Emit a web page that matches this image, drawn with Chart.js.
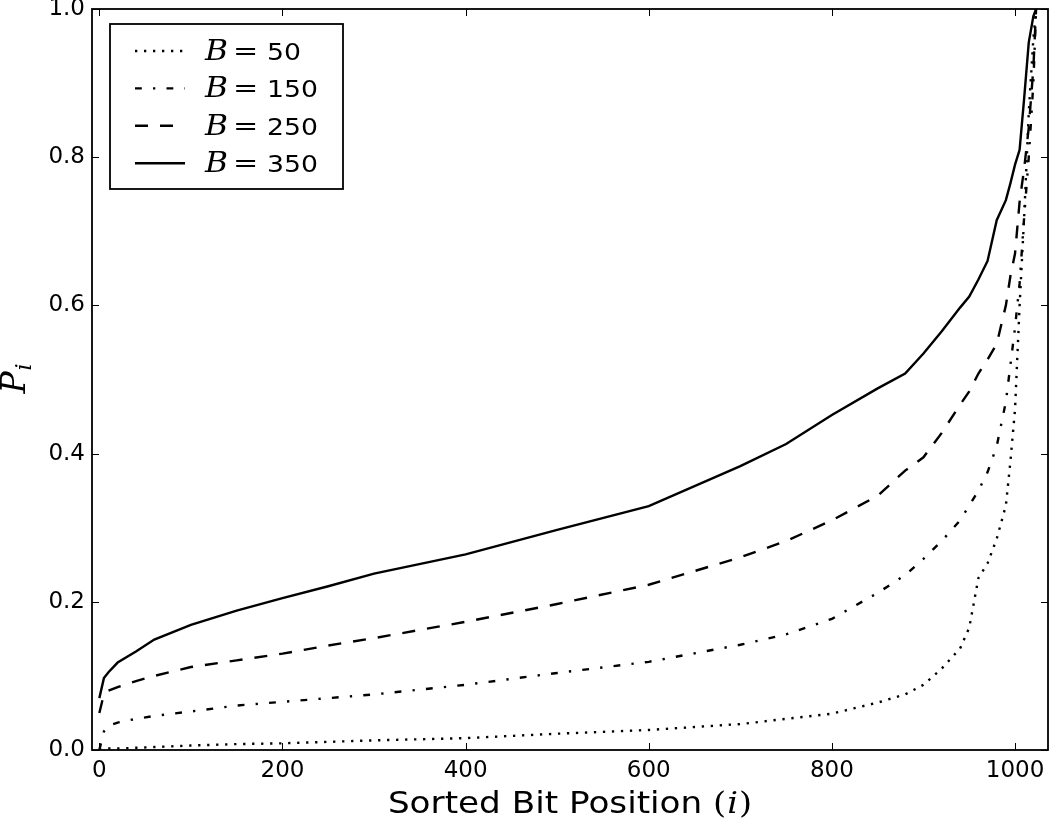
<!DOCTYPE html>
<html>
<head>
<meta charset="utf-8">
<title>Sorted bit position</title>
<script src="https://cdn.jsdelivr.net/npm/chart.js@4.4.0/dist/chart.umd.min.js"></script>
<style>
    html, body { margin: 0; padding: 0; background: #ffffff; }
    #chart { display: block; }
</style>
</head>
<body>
<canvas id="chart" width="1050" height="820"></canvas>
<script>
/*global Chart*/
var bitPos = [0, 5, 10, 20, 40, 60, 100, 150, 200, 250, 300, 400, 500, 600, 700, 750,
    800, 850, 880, 900, 920, 940, 950, 960, 970, 980, 990, 995, 1000, 1005, 1010, 1015, 1020, 1023];

var pB50 = [0.0, 0.001, 0.002, 0.002, 0.003, 0.004, 0.006, 0.008, 0.009, 0.011, 0.013, 0.016, 0.022, 0.027, 0.035, 0.042,
    0.049, 0.064, 0.075, 0.088, 0.11, 0.137, 0.165, 0.232, 0.252, 0.285, 0.33, 0.39, 0.46, 0.6, 0.72, 0.86, 0.96, 1.0];
var pB150 = [0.0, 0.025, 0.033, 0.037, 0.042, 0.046, 0.052, 0.06, 0.065, 0.07, 0.075, 0.088, 0.104, 0.119, 0.142, 0.156,
    0.177, 0.212, 0.236, 0.258, 0.282, 0.31, 0.33, 0.35, 0.375, 0.41, 0.47, 0.52, 0.57, 0.63, 0.72, 0.8, 0.9, 1.0];
var pB250 = [0.05, 0.075, 0.08, 0.085, 0.093, 0.1, 0.112, 0.121, 0.13, 0.141, 0.151, 0.173, 0.197, 0.223, 0.26, 0.282,
    0.31, 0.343, 0.377, 0.395, 0.428, 0.466, 0.484, 0.508, 0.527, 0.548, 0.6, 0.64, 0.67, 0.74, 0.785, 0.84, 0.92, 1.0];
var pB350 = [0.07, 0.097, 0.105, 0.118, 0.133, 0.149, 0.169, 0.188, 0.205, 0.221, 0.238, 0.264, 0.297, 0.329, 0.383, 0.413,
    0.452, 0.488, 0.508, 0.535, 0.565, 0.597, 0.612, 0.635, 0.66, 0.715, 0.742, 0.765, 0.79, 0.81, 0.88, 0.955, 0.99, 1.0];

var bValues = [50, 150, 250, 350];
var xTicks = [0, 200, 400, 600, 800, 1000];
var yTicks = [0.0, 0.2, 0.4, 0.6, 0.8, 1.0];

(function (Chart) {
    "use strict";

    var SANS = "'DejaVu Sans', 'Bitstream Vera Sans', sans-serif";
    var SERIF = "'DejaVu Serif', 'Liberation Serif', serif";
    var STRETCH = 1.16;   // the reference text is a bit wider than tall
    var TICK = 7;

    var toPoints = function (ys) {
        return bitPos.map(function (x, i) {
            return {x: x, y: ys[i]};
        });
    };

    // matplotlib style dashes, scaled to the picture
    var series = [
        {values: pB50, dash: [2.3, 6.7]},
        {values: pB150, dash: [6.8, 11.2, 2.3, 11.2]},
        {values: pB250, dash: [13, 12]},
        {values: pB350, dash: []}
    ];

    var datasets = series.map(function (s, i) {
        return {
            label: "B= " + bValues[i],
            data: toPoints(s.values),
            borderColor: "#000000",
            borderWidth: 2.4,
            borderDash: s.dash,
            borderCapStyle: "butt",
            pointRadius: 0,
            tension: 0,
            fill: false
        };
    });

    var drawStretched = function (ctx, text, x, y) {
        ctx.save();
        ctx.translate(x, y);
        ctx.scale(STRETCH, 1);
        ctx.fillText(text, 0, 0);
        ctx.restore();
        return ctx.measureText(text).width * STRETCH;
    };

    var framePlugin = {
        id: "frame",
        afterDatasetsDraw: function (chart) {
            var ctx = chart.ctx,
                a = chart.chartArea,
                xs = chart.scales.x,
                ys = chart.scales.y;

            ctx.save();
            ctx.strokeStyle = "#000000";
            ctx.lineWidth = 1;
            ctx.beginPath();
            xTicks.forEach(function (v) {
                var px = Math.round(xs.getPixelForValue(v)) + 0.5;
                ctx.moveTo(px, a.bottom);
                ctx.lineTo(px, a.bottom - TICK);
                ctx.moveTo(px, a.top);
                ctx.lineTo(px, a.top + TICK);
            });
            yTicks.forEach(function (v) {
                var py = Math.round(ys.getPixelForValue(v)) + 0.5;
                ctx.moveTo(a.left, py);
                ctx.lineTo(a.left + TICK, py);
                ctx.moveTo(a.right, py);
                ctx.lineTo(a.right - TICK, py);
            });
            ctx.stroke();

            ctx.lineWidth = 1.8;
            ctx.strokeRect(a.left, a.top, a.right - a.left, a.bottom - a.top);
            ctx.restore();
        },
        afterDraw: function (chart) {
            var ctx = chart.ctx,
                a = chart.chartArea,
                lx = 110, ly = 24, lw = 233, lh = 165,
                w, x, cx;

            ctx.save();
            ctx.fillStyle = "#000000";
            ctx.textBaseline = "alphabetic";

            // legend
            ctx.fillStyle = "#ffffff";
            ctx.fillRect(lx, ly, lw, lh);
            ctx.strokeStyle = "#000000";
            ctx.lineWidth = 1.8;
            ctx.strokeRect(lx, ly, lw, lh);
            chart.data.datasets.forEach(function (ds, i) {
                var rowY = 51 + i * 37.4,
                    parts = ds.label.split("=");
                ctx.save();
                ctx.lineWidth = ds.borderWidth;
                ctx.lineCap = "butt";
                ctx.setLineDash(ds.borderDash);
                ctx.beginPath();
                ctx.moveTo(135, rowY);
                ctx.lineTo(185, rowY);
                ctx.stroke();
                ctx.restore();

                ctx.fillStyle = "#000000";
                ctx.font = "italic 27px " + SERIF;
                drawStretched(ctx, parts[0], 205, rowY + 9);
                ctx.font = "26px " + SERIF;
                drawStretched(ctx, "=", 233, rowY + 9);
                ctx.font = "23px " + SANS;
                drawStretched(ctx, parts[1].trim(), 267, rowY + 9);
            });

            // x title: Sorted Bit Position (i)
            ctx.fillStyle = "#000000";
            ctx.font = "29.5px " + SANS;
            w = ctx.measureText("Sorted Bit Position ").width * STRETCH;
            ctx.font = "29px " + SERIF;
            w += ctx.measureText("()").width * STRETCH;
            ctx.font = "italic 29px " + SERIF;
            w += ctx.measureText("i").width * STRETCH + 2;
            cx = (a.left + a.right) / 2;
            x = cx - w / 2;
            ctx.font = "29.5px " + SANS;
            x += drawStretched(ctx, "Sorted Bit Position ", x, 813);
            ctx.font = "29px " + SERIF;
            x += drawStretched(ctx, "(", x, 813) + 1;
            ctx.font = "italic 29px " + SERIF;
            x += drawStretched(ctx, "i", x, 813) + 1;
            ctx.font = "29px " + SERIF;
            drawStretched(ctx, ")", x, 813);

            // y title: P_i
            ctx.save();
            ctx.translate(25, (a.top + a.bottom) / 2);
            ctx.rotate(-Math.PI / 2);
            ctx.font = "italic 33px " + SERIF;
            w = ctx.measureText("P").width;
            ctx.fillText("P", -w / 2 - 3, 0);
            ctx.font = "italic 22px " + SERIF;
            ctx.fillText("i", w / 2 - 2, 6);
            ctx.restore();

            ctx.restore();
        }
    };

    var ctx = window.document.getElementById("chart");
    new Chart(ctx, {
        type: "line",
        data: {datasets: datasets},
        options: {
            responsive: false,
            animation: false,
            layout: {padding: {top: 9, right: 2, left: 0, bottom: 0}},
            plugins: {
                legend: {display: false},
                tooltip: {enabled: false}
            },
            scales: {
                x: {
                    type: "linear",
                    min: -8,
                    max: 1036,
                    grid: {display: false, drawTicks: false},
                    border: {display: false},
                    ticks: {
                        color: "#000000",
                        padding: 7,
                        font: {family: SANS, size: 23},
                        callback: function (v) { return String(v); }
                    },
                    afterBuildTicks: function (scale) {
                        scale.ticks = xTicks.map(function (v) { return {value: v}; });
                    },
                    afterFit: function (scale) {
                        scale.height = 70;
                        scale.paddingLeft = 0;
                        scale.paddingRight = 0;
                    }
                },
                y: {
                    type: "linear",
                    min: 0,
                    max: 1,
                    grid: {display: false, drawTicks: false},
                    border: {display: false},
                    ticks: {
                        color: "#000000",
                        padding: 7,
                        font: {family: SANS, size: 23},
                        callback: function (v) { return v.toFixed(1); }
                    },
                    afterBuildTicks: function (scale) {
                        scale.ticks = yTicks.map(function (v) { return {value: v}; });
                    },
                    afterFit: function (scale) {
                        scale.width = 92;
                        scale.paddingTop = 0;
                        scale.paddingBottom = 0;
                    }
                }
            }
        },
        plugins: [framePlugin]
    });
}(Chart));
</script>
</body>
</html>
